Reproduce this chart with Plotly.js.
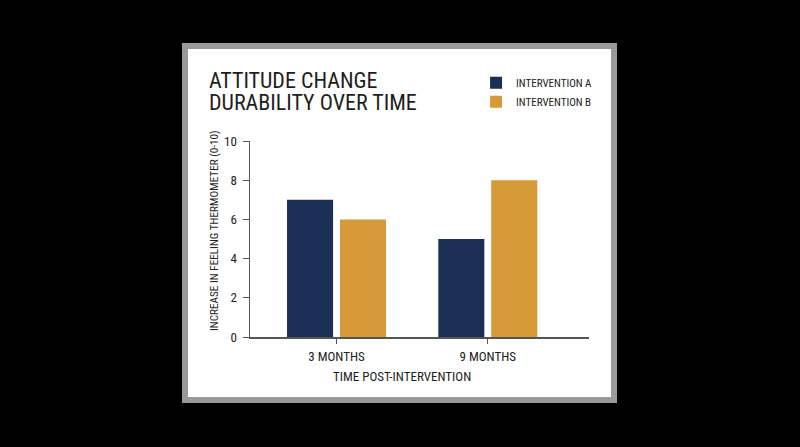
<!DOCTYPE html>
<html>
<head>
<meta charset="utf-8">
<script src="https://cdn.plot.ly/plotly-3.0.1.min.js"></script>
<style>
	html, body { margin: 0; padding: 0; background: #000; width: 800px; height: 447px; overflow: hidden; }
	#frame {
		position: absolute; left: 182px; top: 43px;
		width: 423px; height: 348px;
		border: 6px solid #9a9a9a; background: #fff;
	}
	#chart { width: 423px; height: 348px; }
</style>
</head>
<body>
<div id="frame"><div id="chart"></div></div>
<script>
// Attitude change durability

const periods = ["3 MONTHS", "9 MONTHS"];
const intervention_a = [7, 5];
const intervention_b = [6, 8];
const series_names = ["INTERVENTION A", "INTERVENTION B"];
const y_ticks = [0, 2, 4, 6, 8, 10];
const title_lines = ["ATTITUDE CHANGE", "DURABILITY OVER TIME"];
const x_title = "TIME POST-INTERVENTION";
const y_title = "INCREASE IN FEELING THERMOMETER (0-10)";

const font_family = "'Roboto Condensed', 'Roboto', sans-serif";

function label(text, x, y, size, extra) {
	return Object.assign(
		{
			text: text,
			xref: "paper",
			yref: "paper",
			x: x,
			y: y,
			showarrow: false,
			borderpad: 0,
			font: { size: size, color: "#1e1e1e" },
		},
		extra
	);
}

let data = [
		{
			x: periods,
			y: intervention_a,
			type: "bar",
			name: series_names[0],
			marker: { color: "#1b2e54" },
			hoverinfo: "skip",
		},
		{
			x: periods,
			y: intervention_b,
			type: "bar",
			name: series_names[1],
			marker: { color: "#d69a38" },
			hoverinfo: "skip",
		},
	],
	layout = {
		width: 423,
		height: 348,
		paper_bgcolor: "#ffffff",
		plot_bgcolor: "#ffffff",
		font: { family: font_family, color: "#222222", size: 13 },
		// title lines and axis titles are placed by hand, the originals are off-centre
		annotations: [
			label(title_lines[0], -0.124, 1.311, 22, { xanchor: "left", yanchor: "middle" }),
			label(title_lines[1], -0.124, 1.194, 22, { xanchor: "left", yanchor: "middle" }),
			label(x_title, 0.448, -0.2, 13, { xanchor: "center", yanchor: "middle" }),
			label(y_title, -0.105, 0.543, 11.2, { xanchor: "center", yanchor: "middle", textangle: -90 }),
		],
		showlegend: true,
		legend: {
			xref: "container",
			yref: "container",
			x: 0.681,
			xanchor: "left",
			y: 0.945,
			yanchor: "top",
			font: { size: 11, color: "#222222" },
			bgcolor: "rgba(0,0,0,0)",
			itemwidth: 30,
			tracegroupgap: 0,
		},
		barmode: "group",
		bargap: 0.3,
		bargroupgap: 0.13,
		margin: { l: 62, r: 22, t: 92, b: 60, pad: 0, autoexpand: false },
		xaxis: {
			range: [-0.572, 1.669],
			showline: true,
			linecolor: "#555555",
			linewidth: 1.5,
			ticks: "outside",
			ticklen: 5,
			tickcolor: "#555555",
			showgrid: false,
			zeroline: false,
			tickfont: { size: 13 },
			ticklabelstandoff: 2,
		},
		yaxis: {
			range: [0, 10],
			tickvals: y_ticks,
			showline: true,
			linecolor: "#555555",
			linewidth: 1.5,
			ticks: "outside",
			ticklen: 6,
			tickcolor: "#555555",
			showgrid: false,
			zeroline: false,
			tickfont: { size: 13 },
			ticklabelstandoff: 3,
		},
	};

Plotly.newPlot("chart", data, layout, { displayModeBar: false, staticPlot: true });
</script>
</body>
</html>
